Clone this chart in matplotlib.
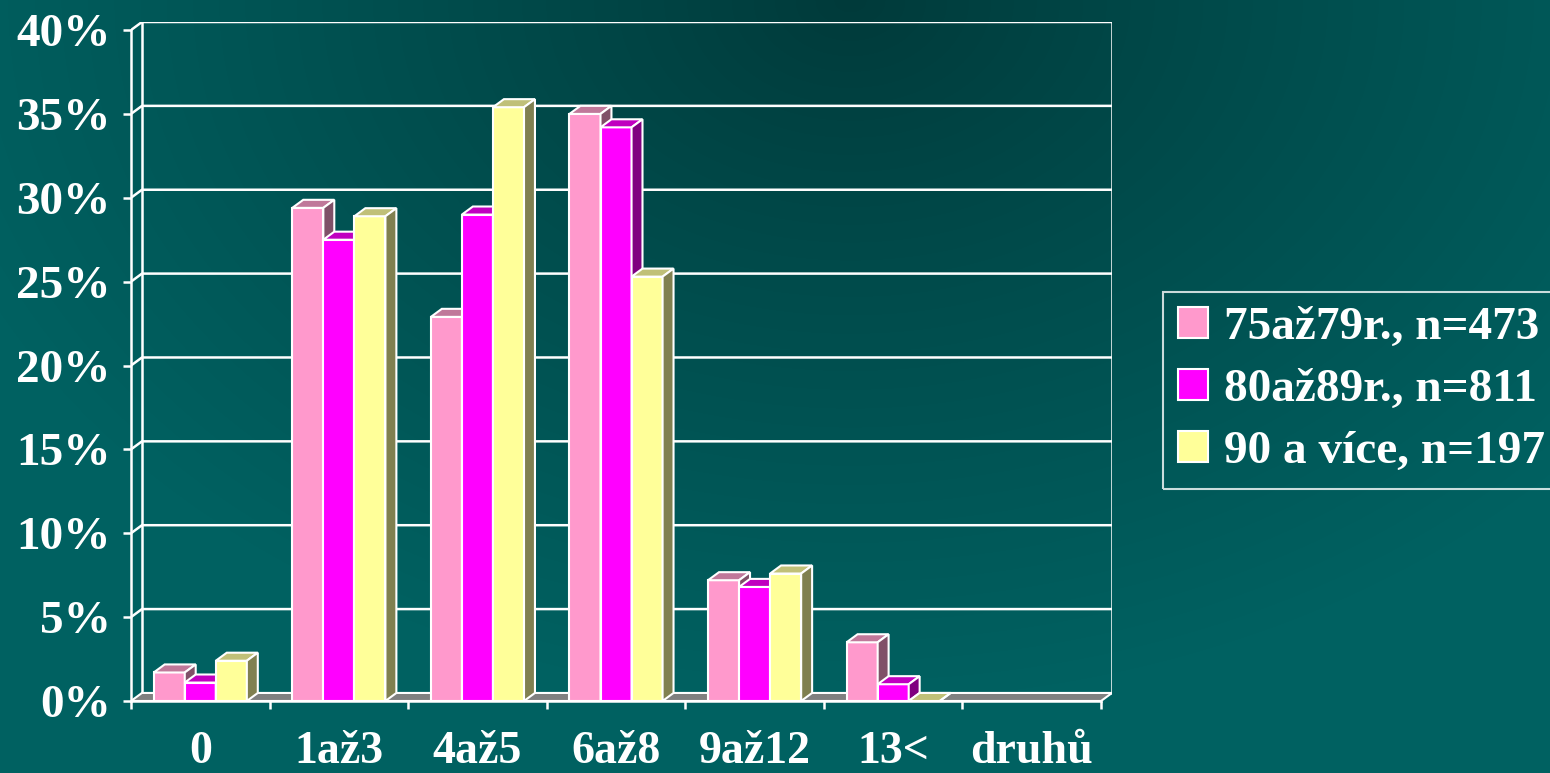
import numpy as np
import matplotlib
matplotlib.use("Agg")
import matplotlib.pyplot as plt
from matplotlib.patches import Polygon

# data (percent of respondents per number of drugs)
categories = ["0", "1až3", "4až5", "6až8", "9až12", "13<", "druhů"]
series_names = ["75až79r., n=473", "80až89r., n=811", "90 a více, n=197"]
s75 = [1.7, 29.4, 22.9, 35.0, 7.2, 3.5, np.nan]
s80 = [1.1, 27.5, 29.0, 34.2, 6.8, 1.0, np.nan]
s90 = [2.4, 28.9, 35.4, 25.3, 7.6, 0.0, np.nan]
y_ticks = [0, 5, 10, 15, 20, 25, 30, 35, 40]

series = [s75, s80, s90]
front_colors = ["#FF99CC", "#FF00FF", "#FFFF99"]
top_colors = ["#C0789A", "#C000C0", "#C0C078"]
side_colors = ["#805068", "#800080", "#808050"]

plt.rcParams["font.family"] = ["Liberation Serif", "DejaVu Serif"]
plt.rcParams["font.weight"] = "bold"

W, H = 1550, 773
fig = plt.figure(figsize=(W / 100, H / 100), dpi=100)

# background gradient
bg = fig.add_axes([0, 0, 1, 1], zorder=0)
yy, xx = np.mgrid[0:H, 0:W]
r = np.sqrt(((xx - 850) / 950.0) ** 2 + ((yy - 0) / 700.0) ** 2)
r = np.clip(r, 0, 1)
dark = np.array([0, 58, 58]) / 255
light = np.array([0, 97, 97]) / 255
img = dark + (light - dark) * r[..., None] ** 0.9
bg.imshow(img, aspect="auto", extent=(0, 1, 0, 1))
bg.axis("off")

n = len(categories)
DX = 0.079   # depth offset in x (category units)
DY = 0.48    # depth offset in y (percent units)
bw = 0.224
ymax = y_ticks[-1]

left_px, right_px = 131, 1112
bottom_px, top_px = 701, 22
ax = fig.add_axes([left_px / W, 1 - bottom_px / H,
                   (right_px - left_px) / W, (bottom_px - top_px) / H], zorder=1)
ax.set_facecolor("none")
ax.set_xlim(-0.5, n - 0.5 + DX)
ax.set_ylim(0, ymax + DY)

# walls and gridlines
x0, x1 = -0.5, n - 0.5
for v in y_ticks[1:]:
    ax.plot([x0, x0 + DX, x1 + DX], [v, v + DY, v + DY], color="white", lw=1.8, zorder=1)
ax.plot([x0 + DX, x0 + DX], [DY, ymax + DY], color="white", lw=1.8, zorder=1)
ax.plot([x1 + DX, x1 + DX], [DY, ymax + DY], color="white", lw=1.8, zorder=1)

# floor
ax.add_patch(Polygon([(x0, 0), (x1, 0), (x1 + DX, DY), (x0 + DX, DY)], closed=True,
                     facecolor="#808080", edgecolor="white", lw=1.5, zorder=2))

x = np.arange(n)
handles = []
for i, vals in enumerate(series):
    xs = x + (i - 1) * bw
    z = 3 + i * 0.1
    bars = ax.bar(xs, vals, width=bw, color=front_colors[i], edgecolor="white",
                  linewidth=1.5, zorder=z, label=series_names[i])
    handles.append(bars)
    for rect, v in zip(bars.patches, vals):
        if np.isnan(v):
            continue
        bx, bwid = rect.get_x(), rect.get_width()
        top = [(bx, v), (bx + bwid, v), (bx + bwid + DX, v + DY), (bx + DX, v + DY)]
        side = [(bx + bwid, 0), (bx + bwid + DX, DY), (bx + bwid + DX, v + DY), (bx + bwid, v)]
        ax.add_patch(Polygon(top, closed=True, facecolor=top_colors[i],
                             edgecolor="white", lw=1.5, zorder=z))
        ax.add_patch(Polygon(side, closed=True, facecolor=side_colors[i],
                             edgecolor="white", lw=1.5, zorder=z))

# axes
for s in ["top", "right"]:
    ax.spines[s].set_visible(False)
ax.spines["left"].set_bounds(0, ymax)
ax.spines["bottom"].set_bounds(x0, x1)
for s in ["left", "bottom"]:
    ax.spines[s].set_color("white")
    ax.spines[s].set_linewidth(1.8)
    ax.spines[s].set_zorder(2.5)

ax.set_yticks(y_ticks)
ax.set_yticklabels([f"{v}%" for v in y_ticks])
ax.tick_params(axis="y", colors="white", length=6, width=1.8, pad=8.5, labelsize=34)
ax.set_xticks(np.arange(n + 1) - 0.5)
ax.set_xticklabels([])
ax.tick_params(axis="x", which="major", colors="white", length=6, width=1.8)
ax.set_xticks(x, minor=True)
ax.set_xticklabels(categories, minor=True)
ax.tick_params(axis="x", which="minor", length=0, pad=21.5, labelsize=33, labelcolor="white")

leg = ax.legend(handles=handles, loc="upper left", bbox_to_anchor=(1163 / W, 1 - 292 / H),
                bbox_transform=fig.transFigure, borderaxespad=0, fontsize=34,
                frameon=True, fancybox=False, handlelength=0.64, handleheight=0.64,
                handletextpad=0.34, labelspacing=0.42, borderpad=0.32, labelcolor="white")
leg.get_frame().set_facecolor("none")
leg.get_frame().set_edgecolor("white")
leg.get_frame().set_linewidth(1.5)

fig.savefig("out.png", dpi=100)
